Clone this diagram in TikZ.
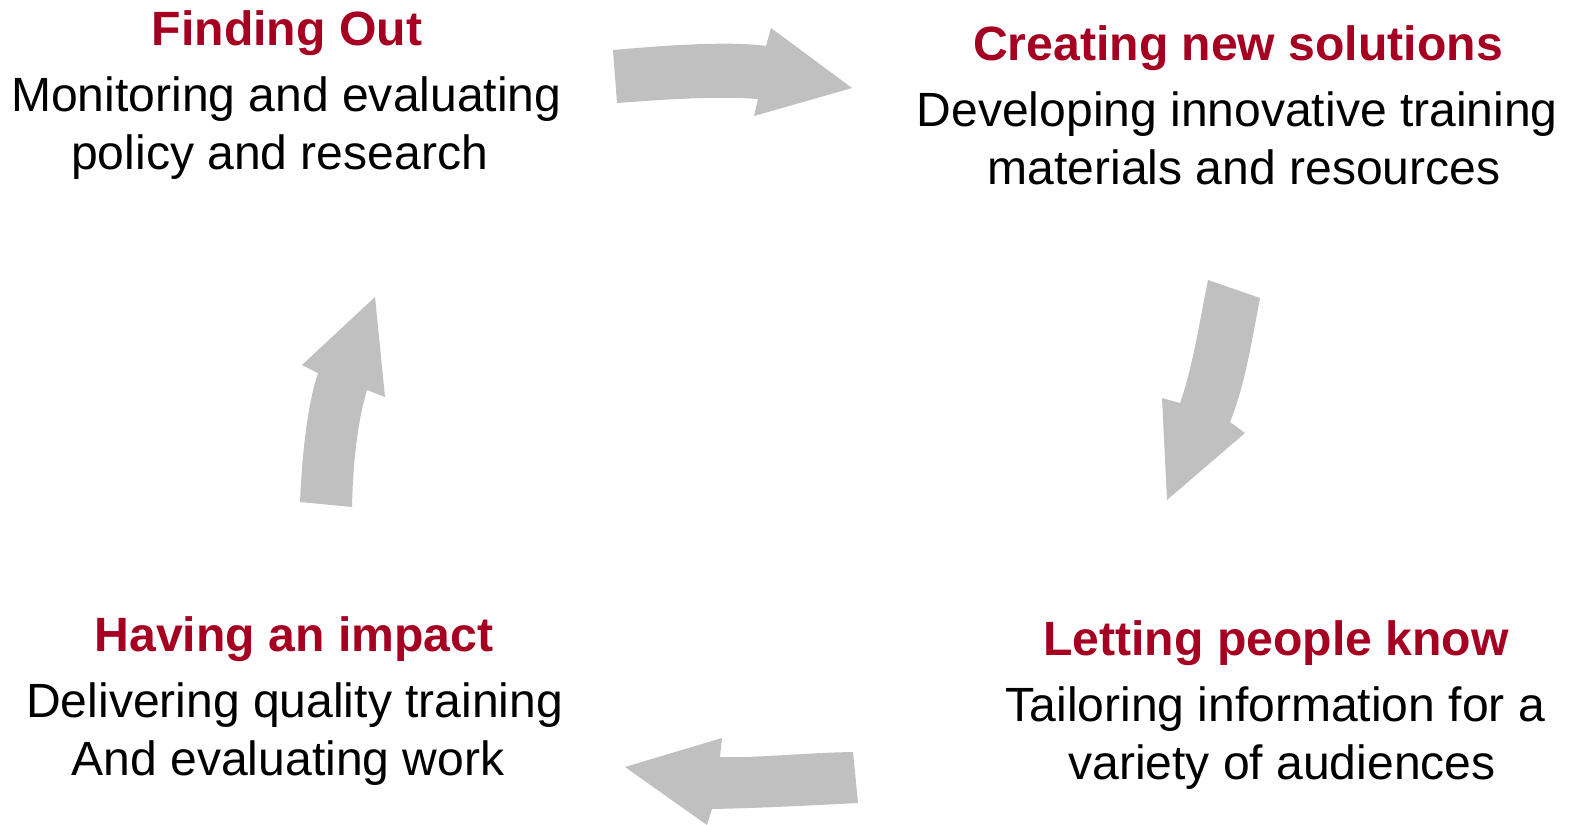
\documentclass[tikz,border=0pt]{standalone}
\usepackage{fontspec}
\setmainfont{Liberation Sans}
\usetikzlibrary{positioning}

\definecolor{titlered}{RGB}{165,0,33}
\definecolor{arrowgray}{RGB}{192,192,192}

\newcommand{\trail}{\hspace*{0.278em}}

\tikzset{
	heading/.style={anchor=base, inner sep=0pt, text=titlered,
		font=\fontsize{27.4}{32}\selectfont\bfseries},
	blurb/.style={below=12pt of #1, inner sep=0pt, align=center,
		font=\fontsize{27.35}{32.6}\selectfont},
	flow/.style={fill=arrowgray}
}

\begin{document}
\begin{tikzpicture}[x=0.02cm, y=-0.02cm]
	\useasboundingbox (0,0) rectangle (1573,825);
	
	% Заголовки четырёх этапов
	\node[heading] (find) at (287,45) {Finding Out};
	\node[heading] (create) at (1238,60) {Creating new solutions};
	\node[heading] (tell) at (1276,655) {Letting people know};
	\node[heading] (impact) at (294,651) {Having an impact};
	
	% Пояснения под заголовками
	\node[blurb=find, xshift=-0.4pt] (findtxt) {Monitoring and evaluating\\policy and research\trail};
	\node[blurb=create, xshift=3.4pt] (createtxt) {Developing innovative training\trail\\materials and resources};
	\node[blurb=tell, xshift=3.4pt] (telltxt) {Tailoring information for a\trail\\variety of audiences};
	\node[blurb=impact, xshift=0.4pt] (impacttxt) {Delivering quality training\\And evaluating work\trail};
	
	% Изогнутые стрелки по кругу
	\fill[flow] (613,50) .. controls (670,45) and (730,41) .. (766,46) -- (771,28)
		-- (852,88) -- (754,116) -- (758,99) .. controls (720,96) and (670,99) .. (617,103) -- cycle;
	\fill[flow] (1208,280) -- (1260,298) .. controls (1252,340) and (1245,385) .. (1230,422)
		-- (1245,433) -- (1167,500) -- (1162,398) -- (1180,403) .. controls (1192,370) and (1200,320) .. (1208,280) -- cycle;
	\fill[flow] (853,752) .. controls (800,753) and (760,758) .. (720,757) -- (722,738)
		-- (625,767) -- (707,825) -- (712,809) .. controls (760,808) and (800,806) .. (858,803) -- cycle;
	\fill[flow] (300,502) .. controls (302,460) and (306,410) .. (318,373) -- (302,365)
		-- (375,297) -- (385,397) -- (367,390) .. controls (358,420) and (353,460) .. (352,507) -- cycle;
\end{tikzpicture}
\end{document}
